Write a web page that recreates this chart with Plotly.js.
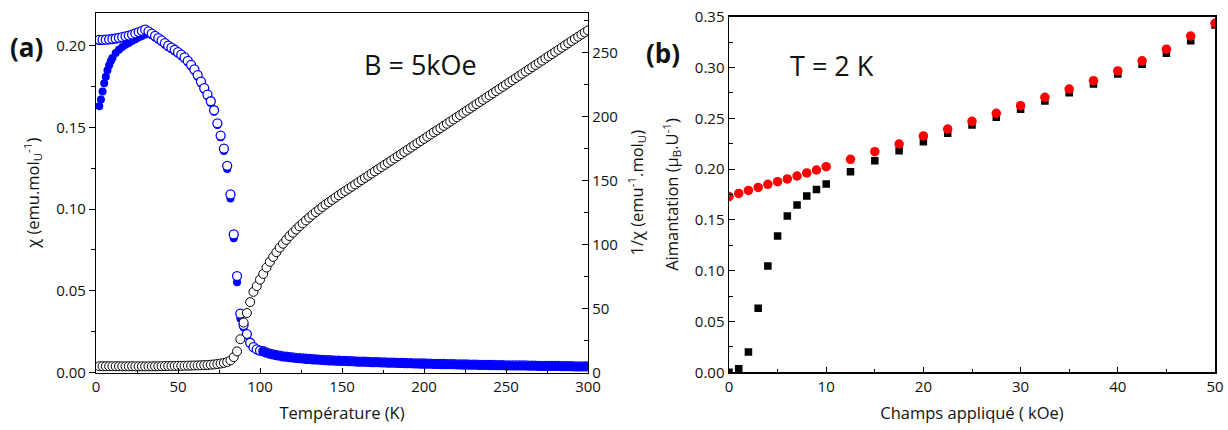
<!DOCTYPE html>
<html>
<head>
<meta charset="utf-8">
<script src="https://cdn.plot.ly/plotly-3.0.1.min.js"></script>
<style>html,body{margin:0;padding:0;background:#fff;}#chart{width:1228px;height:430px;}</style>
</head>
<body>
<div id="chart"></div>
<script>
// ---- Panel (a): susceptibility vs temperature, B = 5 kOe ----
const temperature = [2,4,6,8,10,12,14,16,18,20,22,24,26,28,30,32,34,36,38,40,42,44,46,48,50,52,54,56,58,60,62,64,66,68,70,72,74,76,78,80,82,84,86,88,90,92,94,96,98,100,102,104,106,108,110,112,114,116,118,120,122,124,126,128,130,132,134,136,138,140,142,144,146,148,150,152,154,156,158,160,162,164,166,168,170,172,174,176,178,180,182,184,186,188,190,192,194,196,198,200,202,204,206,208,210,212,214,216,218,220,222,224,226,228,230,232,234,236,238,240,242,244,246,248,250,252,254,256,258,260,262,264,266,268,270,272,274,276,278,280,282,284,286,288,290,292,294,296,298,300];

// field-cooled chi (open blue circles)
const chiFC = [
 .2035,.2036,.2037,.2039,.2041,.2044,.2048,.2052,.2057,.2062,.2068,.2075,.2083,.2091,.2098,
 .2088,.2074,.2060,.2046,.2032,.2016,.2000,.1988,.1975,.1960,.1945,.1928,.1907,.1883,.1855,
 .1820,.1780,.1740,.1700,.1660,.1605,.1525,.1450,.1370,.1265,.1090,.0845,.0590,.0360,.0290,
 .0235,.0182,.0155,.0142,.0134,.0130,.0122,.0116,.0111,.0106,.0103,.0099,.0097,.0094,.0092,
 .0090,.0088,.0086,.0084,.0083,.0081,.0080,.0079,.0077,.0076,.0075,.0074,.0073,.0072,.0071,
 .0071,.0070,.0069,.0068,.0067,.0067,.0066,.0065,.0064,.0064,.0063,.0062,.0062,.0061,.0060,
 .0060,.0059,.0059,.0058,.0057,.0057,.0056,.0056,.0055,.0055,.0054,.0054,.0053,.0053,.0052,
 .0052,.0051,.0051,.0051,.0050,.0050,.0049,.0049,.0048,.0048,.0048,.0047,.0047,.0047,.0046,
 .0046,.0045,.0045,.0045,.0044,.0044,.0044,.0043,.0043,.0043,.0043,.0042,.0042,.0042,.0041,
 .0041,.0041,.0040,.0040,.0040,.0040,.0039,.0039,.0039,.0039,.0038,.0038,.0038,.0038,.0037];

// inverse susceptibility (open black circles, right axis)
const invChi = [
 4.9,4.9,4.9,4.9,4.9,4.9,4.9,4.85,4.85,4.85,4.85,4.8,4.8,4.8,4.75,
 4.8,4.8,4.85,4.9,4.95,5.0,5.05,5.1,5.15,5.2,5.25,5.3,5.35,5.4,5.5,
 5.55,5.65,5.75,5.9,6.1,6.3,6.6,7.0,7.5,8.2,9.5,12.0,16.5,26.0,39.0,
 46.5,55.0,63.0,67.5,72.5,77.0,82.0,86.5,90.3,94.0,97.5,100.6,103.6,106.6,109.2,
 111.7,114.2,116.5,118.8,121.0,123.2,125.3,127.3,129.3,131.2,133.0,134.8,136.6,138.4,140.1,
 141.8,143.5,145.2,146.9,148.6,150.3,152.0,153.7,155.4,157.1,158.8,160.5,162.2,163.8,165.5,
 167.2,168.9,170.6,172.3,174.0,175.7,177.4,179.1,180.8,182.5,184.2,185.9,187.6,189.2,190.9,
 192.6,194.3,196.0,197.7,199.4,201.1,202.8,204.5,206.2,207.9,209.6,211.3,213.0,214.7,216.4,
 218.1,219.8,221.5,223.2,224.9,226.6,228.3,230.0,231.7,233.4,235.1,236.8,238.5,240.2,241.9,
 243.6,245.3,247.0,248.7,250.4,252.1,253.8,255.5,257.2,258.9,260.6,262.3,264.0,265.6,267.2];

// zero-field-cooled chi (filled blue circles), up to 100 K
const temperatureZFC = [2,3,4,5,6,7,8,9,10,12,14,16,18,20,22,24,26,28,30,32,34,36,38,40,42,44,46,48,50,52,54,56,58,60,62,64,66,68,70,72,74,76,78,80,82,84,86,88,90,92,94,96,98,100];
const chiZFC = [
 .163,.167,.172,.177,.181,.185,.188,.1905,.1925,.1955,.1975,.1992,.2005,.2017,.2028,.2039,.2050,.2060,.2068,
 .2078,.2064,.2050,.2036,.2022,.2006,.1990,.1978,.1965,.1950,.1935,.1918,.1897,.1873,.1845,
 .1810,.1770,.1730,.1690,.1650,.1595,.1515,.1440,.1355,.1245,.1065,.0822,.0553,.0330,.0275,
 .0228,.0178,.0152,.0140,.0132];

// zero-field-cooled chi (filled blue circles), paramagnetic tail above 100 K
const temperatureZFCtail = [102,104,106,108,110,112,114,116,118,120,122,124,126,128,130,132,134,136,138,140,142,144,146,148,150,152,154,156,158,160,162,164,166,168,170,172,174,176,178,180,182,184,186,188,190,192,194,196,198,200,202,204,206,208,210,212,214,216,218,220,222,224,226,228,230,232,234,236,238,240,242,244,246,248,250,252,254,256,258,260,262,264,266,268,270,272,274,276,278,280,282,284,286,288,290,292,294,296,298,300];
const chiZFCtail = [
 .0128,.0121,.0115,.0110,.0105,.0102,.0098,.0096,.0093,.0091,
 .0089,.0087,.0085,.0083,.0082,.0080,.0079,.0078,.0076,.0075,.0074,.0073,.0072,.0071,.0070,
 .0070,.0069,.0068,.0067,.0066,.0066,.0065,.0064,.0063,.0063,.0062,.0061,.0061,.0060,.0059,
 .0059,.0058,.0058,.0057,.0056,.0056,.0055,.0055,.0054,.0054,.0053,.0053,.0052,.0052,.0051,
 .0051,.0050,.0050,.0050,.0049,.0049,.0048,.0048,.0047,.0047,.0047,.0046,.0046,.0046,.0045,
 .0045,.0044,.0044,.0044,.0043,.0043,.0043,.0042,.0042,.0042,.0042,.0041,.0041,.0041,.0040,
 .0040,.0040,.0039,.0039,.0039,.0039,.0038,.0038,.0038,.0038,.0037,.0037,.0037,.0037,.0036];

// ---- Panel (b): magnetization vs applied field, T = 2 K ----
const fieldKOe = [0,1,2,3,4,5,6,7,8,9,10,12.5,15,17.5,20,22.5,25,27.5,30,32.5,35,37.5,40,42.5,45,47.5,50];
const magnetRed = [0.173,0.176,0.179,0.182,0.185,0.1876,0.1903,0.1932,0.1962,0.1991,0.2024,0.2096,0.2171,0.2247,0.2326,0.2394,0.247,0.2549,0.2624,0.2706,0.2788,0.287,0.2966,0.3066,0.318,0.331,0.3435];
const magnetBlack = [0.0,0.0036,0.020,0.063,0.1046,0.1342,0.1538,0.1647,0.1735,0.180,0.1853,0.1975,0.2083,0.2181,0.227,0.2352,0.2434,0.251,0.2589,0.267,0.2752,0.2838,0.2936,0.3031,0.314,0.3264,0.3418];

const leftTicks = [0, 0.05, 0.10, 0.15, 0.20];
const rightTicks = [0, 50, 100, 150, 200, 250];

const FONT = "Open Sans, sans-serif";
const INK = "#111";
const TICK = 15;
const TITLE = 16.5;
const BLUE = '#0000ff';

const traces = [
  {x: temperatureZFC, y: chiZFC, xaxis: 'x', yaxis: 'y', mode: 'markers', type: 'scatter',
   marker: {symbol: 'circle', size: 8, color: BLUE}},
  {x: temperature, y: invChi, xaxis: 'x', yaxis: 'y2', mode: 'markers', type: 'scatter',
   marker: {symbol: 'circle', size: 9, color: '#fff', line: {width: 1, color: '#000'}}},
  {x: temperature, y: chiFC, xaxis: 'x', yaxis: 'y', mode: 'markers', type: 'scatter',
   marker: {symbol: 'circle', size: 9, color: '#fff', line: {width: 1.3, color: BLUE}}},
  {x: temperatureZFCtail, y: chiZFCtail, xaxis: 'x', yaxis: 'y', mode: 'markers', type: 'scatter',
   marker: {symbol: 'circle', size: 8.5, color: BLUE}},
  {x: fieldKOe, y: magnetBlack, xaxis: 'x2', yaxis: 'y3', mode: 'markers', type: 'scatter',
   marker: {symbol: 'square', size: 7.5, color: '#000'}},
  {x: fieldKOe, y: magnetRed, xaxis: 'x2', yaxis: 'y3', mode: 'markers', type: 'scatter',
   marker: {symbol: 'circle', size: 9.5, color: '#ff0000'}}
];

const W = 1228, H = 430;
const axisCommon = {showline: true, linecolor: '#000', showgrid: false, zeroline: false,
  tickfont: {family: FONT, size: TICK, color: INK}, tickcolor: '#000', ticks: 'inside'};
const titleFont = {family: FONT, size: TITLE, color: INK};

const layout = {
  width: W, height: H,
  margin: {l: 0, r: 0, t: 0, b: 0},
  paper_bgcolor: '#fff', plot_bgcolor: '#fff',
  showlegend: false,
  font: {family: FONT, color: INK},
  xaxis: Object.assign({}, axisCommon, {
    domain: [96 / W, 588 / W], anchor: 'y', range: [0, 300], dtick: 50, tick0: 0,
    ticklen: 5, linewidth: 1.2, mirror: true,
    minor: {dtick: 25, ticklen: 3, ticks: 'inside', tickcolor: '#000'},
    title: {text: 'Température (K)', font: titleFont, standoff: 12}
  }),
  yaxis: Object.assign({}, axisCommon, {
    domain: [(H - 372.5) / H, (H - 13) / H], anchor: 'x', range: [0, 0.22],
    tickvals: leftTicks, tickformat: '.2f', ticks: 'outside', ticklen: 6, linewidth: 1.2,
    minor: {dtick: 0.025, tick0: 0, ticklen: 4, ticks: 'outside', tickcolor: '#000'},
    title: {text: 'χ (emu.mol<sub>U</sub><sup>-1</sup>)', font: titleFont, standoff: 12}
  }),
  yaxis2: Object.assign({}, axisCommon, {
    overlaying: 'y', side: 'right', anchor: 'x', range: [0, 280.8],
    tickvals: rightTicks, ticklen: 6, linewidth: 1.2,
    minor: {dtick: 25, tick0: 0, ticklen: 4, ticks: 'inside', tickcolor: '#000'},
    title: {text: '1/χ (emu<sup>-1</sup>.mol<sub>U</sub>)', font: titleFont, standoff: 14}
  }),
  xaxis2: Object.assign({}, axisCommon, {
    domain: [729 / W, 1215 / W], anchor: 'y3', range: [0, 50], dtick: 10, tick0: 0,
    ticklen: 5, linewidth: 1.5, mirror: true,
    minor: {dtick: 5, ticklen: 3, ticks: 'inside', tickcolor: '#000'},
    title: {text: 'Champs appliqué ( kOe)', font: titleFont, standoff: 12}
  }),
  yaxis3: Object.assign({}, axisCommon, {
    domain: [(H - 372.3) / H, (H - 16.7) / H], anchor: 'x2', range: [0, 0.35],
    dtick: 0.05, tick0: 0, tickformat: '.2f', ticklen: 6, linewidth: 1.5, mirror: true,
    minor: {dtick: 0.025, tick0: 0, ticklen: 4, ticks: 'inside', tickcolor: '#000'},
    title: {text: 'Aimantation (μ<sub>B</sub>.U<sup>-1</sup>)', font: titleFont, standoff: 12}
  }),
  annotations: [
    {text: '<b>(a)</b>', xref: 'paper', yref: 'paper', x: 26 / W, y: 1 - 47 / H, xanchor: 'center', yanchor: 'middle',
     showarrow: false, font: {family: FONT, size: 26, color: INK}},
    {text: '<b>(b)</b>', xref: 'paper', yref: 'paper', x: 663 / W, y: 1 - 53 / H, xanchor: 'center', yanchor: 'middle',
     showarrow: false, font: {family: FONT, size: 26, color: INK}},
    {text: 'B = 5kOe', xref: 'paper', yref: 'paper', x: 420 / W, y: 1 - 64 / H, xanchor: 'center', yanchor: 'middle',
     showarrow: false, font: {family: FONT, size: 27, color: INK}},
    {text: 'T = 2 K', xref: 'paper', yref: 'paper', x: 832 / W, y: 1 - 65 / H, xanchor: 'center', yanchor: 'middle',
     showarrow: false, font: {family: FONT, size: 27, color: INK}}
  ]
};

Plotly.newPlot('chart', traces, layout, {displayModeBar: false, staticPlot: true});
</script>
</body>
</html>
